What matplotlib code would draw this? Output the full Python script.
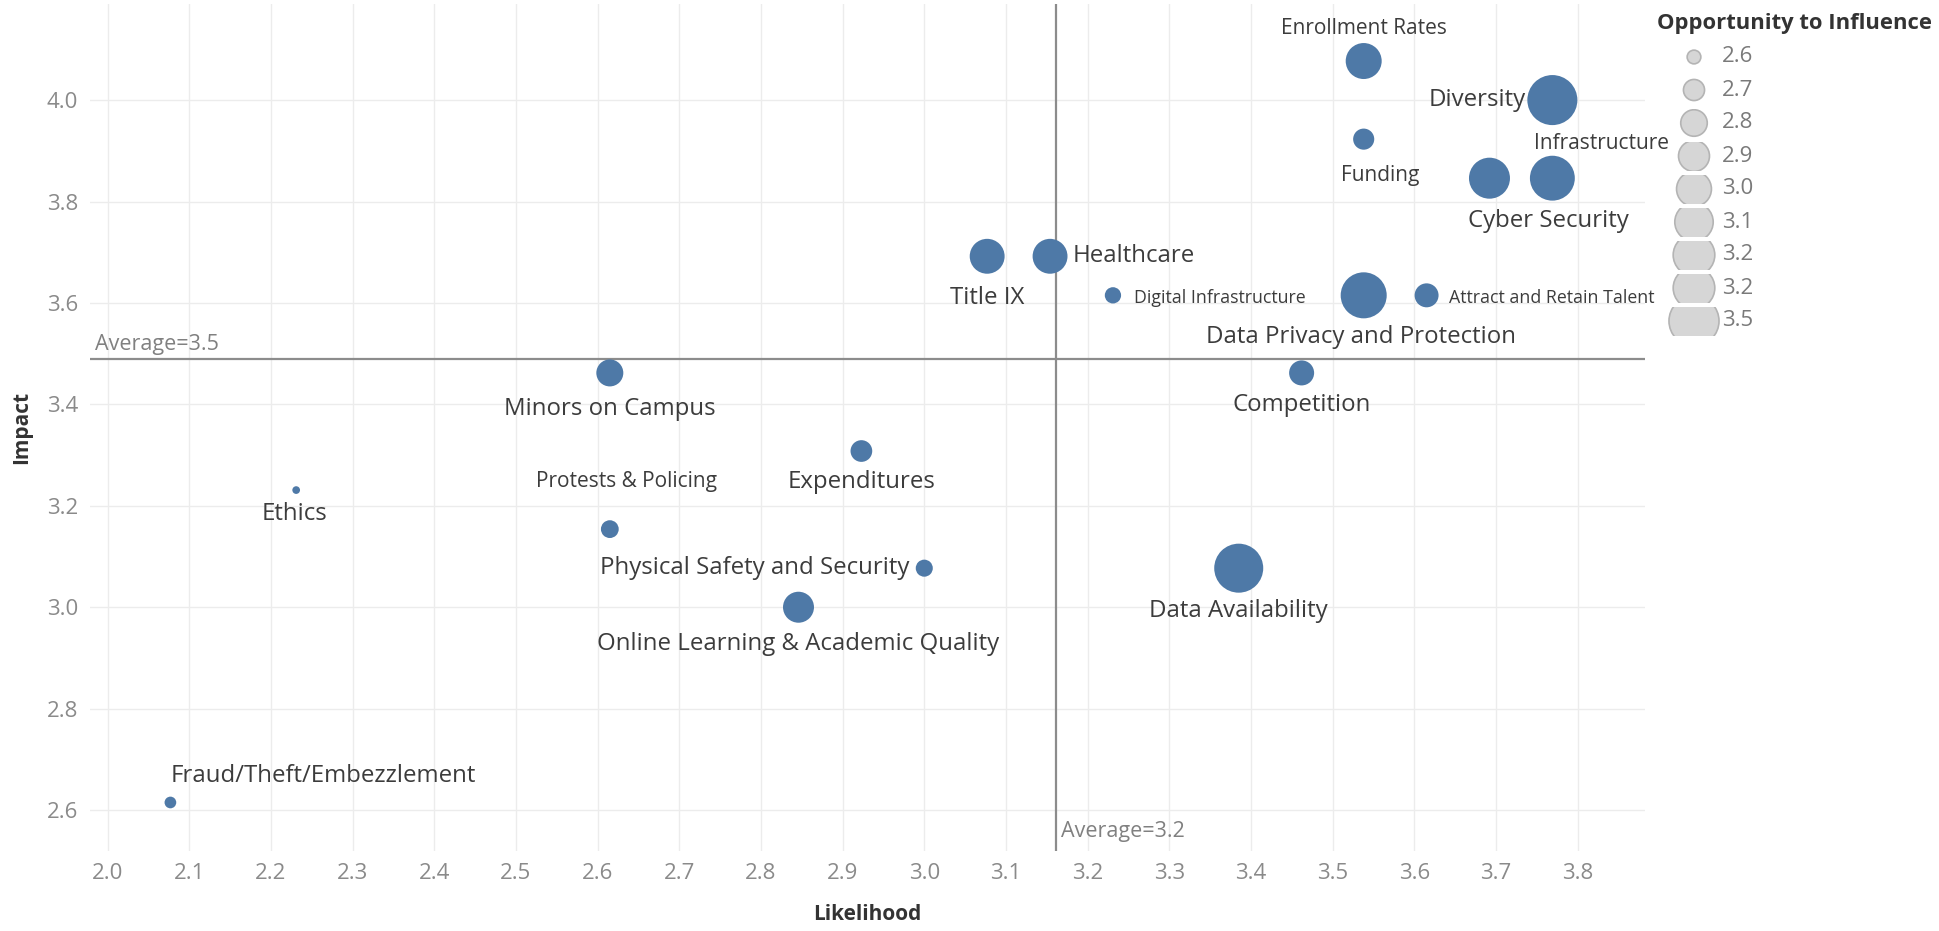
import matplotlib.pyplot as plt
from matplotlib.patches import Circle, Rectangle
import numpy as np

plt.rcParams['font.family'] = ['Open Sans', 'DejaVu Sans']

# data
risks = ["Enrollment Rates", "Diversity", "Funding", "Cyber Security", "Infrastructure",
         "Title IX", "Healthcare", "Digital Infrastructure", "Data Privacy and Protection",
         "Attract and Retain Talent", "Competition", "Minors on Campus", "Expenditures",
         "Ethics", "Protests & Policing", "Physical Safety and Security",
         "Online Learning & Academic Quality", "Data Availability", "Fraud/Theft/Embezzlement"]
likelihood = [3.538, 3.769, 3.538, 3.692, 3.769, 3.077, 3.154, 3.231, 3.538, 3.615,
              3.462, 2.615, 2.923, 2.231, 2.615, 3.000, 2.846, 3.385, 2.077]
impact = [4.077, 4.000, 3.923, 3.846, 3.846, 3.692, 3.692, 3.615, 3.615, 3.615,
          3.462, 3.462, 3.308, 3.231, 3.154, 3.077, 3.000, 3.077, 2.615]
opportunity = [3.03, 3.50, 2.70, 3.18, 3.31, 3.00, 3.00, 2.63, 3.35, 2.75,
               2.77, 2.81, 2.71, 2.55, 2.65, 2.64, 2.90, 3.46, 2.58]
legend_values = [2.6, 2.7, 2.8, 2.9, 3.0, 3.1, 3.2, 3.2, 3.5]
x_ticks = [2.0, 2.1, 2.2, 2.3, 2.4, 2.5, 2.6, 2.7, 2.8, 2.9, 3.0, 3.1, 3.2, 3.3, 3.4, 3.5, 3.6, 3.7, 3.8]
y_ticks = [2.6, 2.8, 3.0, 3.2, 3.4, 3.6, 3.8, 4.0]

# label placement: offset from bubble centre in pixels, alignment, font size
BIG, MID, SMALL = 17.3, 15, 12.8
layout = {
    "Enrollment Rates": (0, 33, "center", MID),
    "Diversity": (-27, 0, "right", BIG),
    "Funding": (16, -36, "center", MID),
    "Cyber Security": (59, -43, "center", BIG),
    "Infrastructure": (49, 35, "center", MID),
    "Title IX": (0, -42, "center", BIG),
    "Healthcare": (23, 0, "left", BIG),
    "Digital Infrastructure": (21, -3, "left", SMALL),
    "Data Privacy and Protection": (-3, -42, "center", BIG),
    "Attract and Retain Talent": (22, -3, "left", SMALL),
    "Competition": (0, -32, "center", BIG),
    "Minors on Campus": (0, -36, "center", BIG),
    "Expenditures": (0, -31, "center", BIG),
    "Ethics": (-2, -24, "center", BIG),
    "Protests & Policing": (17, 48, "center", MID),
    "Physical Safety and Security": (-15, 0, "right", BIG),
    "Online Learning & Academic Quality": (0, -37, "center", BIG),
    "Data Availability": (0, -43, "center", BIG),
    "Fraud/Theft/Embezzlement": (0, 26, "left", BIG),
}

PT = 0.72  # points per pixel at dpi 100


def diameter_px(v):
    return np.sqrt(2574 * (np.asarray(v) - 2.527))


fig = plt.figure(figsize=(19.39, 9.31), dpi=100)
ax = fig.add_axes([0.0466, 0.0863, 0.8016, 0.9097])

sizes = (diameter_px(opportunity) * PT) ** 2
ax.scatter(likelihood, impact, s=sizes, color="#4e79a7", edgecolors="none", zorder=3)

for name, x, y in zip(risks, likelihood, impact):
    dx, dy, ha, fs = layout[name]
    ax.annotate(name, (x, y), xytext=(dx * PT, dy * PT), textcoords="offset points",
                ha=ha, va="center", fontsize=fs, color="#3c3c3c", zorder=4)

avg_x = np.mean(likelihood)
avg_y = np.mean(impact)
ax.axhline(avg_y, color="#8c8c8c", lw=1.6, zorder=2)
ax.axvline(avg_x, color="#8c8c8c", lw=1.6, zorder=2)
ax.text(1.985, avg_y + 0.008, f"Average={avg_y:.1f}", fontsize=15.5, color="#808080",
        ha="left", va="bottom")
ax.text(avg_x + 0.005, 2.558, f"Average={avg_x:.1f}", fontsize=15.5, color="#808080",
        ha="left", va="center")

ax.set_xlim(1.979, 3.882)
ax.set_ylim(2.52, 4.19)
ax.set_xticks(x_ticks)
ax.set_yticks(y_ticks)
ax.set_xticklabels([f"{t:.1f}" for t in x_ticks])
ax.set_yticklabels([f"{t:.1f}" for t in y_ticks])
ax.tick_params(length=0, labelsize=16, colors="#8a8a8a", pad=9)
ax.grid(True, color="#ececec", lw=1)
ax.set_axisbelow(True)
for s in ax.spines.values():
    s.set_visible(False)
ax.set_xlabel("Likelihood", fontsize=15, fontweight="bold", color="#333333", labelpad=14)
ax.set_ylabel("Impact", fontsize=15, fontweight="bold", color="#333333", labelpad=10)

# size legend, drawn in pixel coordinates
W, H = 1939, 931
lax = fig.add_axes([0, 0, 1, 1], zorder=5)
lax.set_xlim(0, W)
lax.set_ylim(H, 0)
lax.axis("off")
lax.patch.set_alpha(0)
lax.text(1657, 24, "Opportunity to Influence", fontsize=15.8, fontweight="bold",
         color="#333333", ha="left", va="center")
row_h = 33
for i, v in enumerate(legend_values):
    cy = 57 + i * row_h
    r = diameter_px(v) / 2
    circ = Circle((1694, cy), r, facecolor="#d6d6d6", edgecolor="#b4b4b4", lw=1.2)
    lax.add_patch(circ)
    clip = Rectangle((1694 - 40, cy - 14.5), 80, 29, transform=lax.transData)
    circ.set_clip_path(clip)
    lax.text(1722, cy, f"{v:.1f}", fontsize=16, color="#7a7a7a", ha="left", va="center")

fig.savefig("out.png", dpi=100)
